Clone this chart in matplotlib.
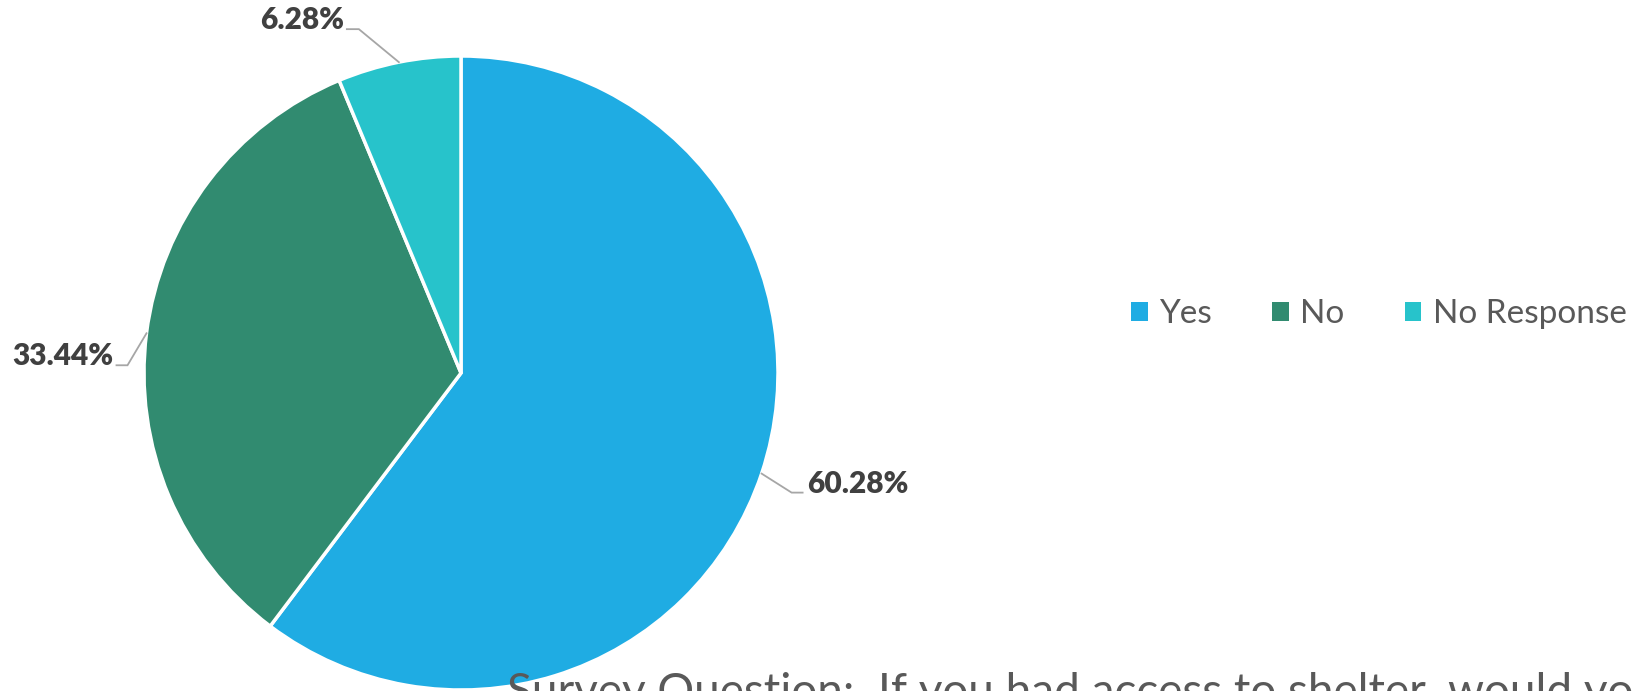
import numpy as np
import matplotlib.pyplot as plt
from matplotlib.patches import Patch

# ================================
# Data
# ================================
categories = ["Yes", "No", "No Response"]
shares = [60.28, 33.44, 6.28]
colors = ["#1FACE3", "#318B70", "#27C3CB"]
question = "Survey Question:  If you had access to shelter, would you use it?"

W, H = 1632, 691
plt.rcParams['font.family'] = ['Lato', 'DejaVu Sans']

fig = plt.figure(figsize=(W / 100, H / 100), dpi=100)
ax = fig.add_axes([0, 0, 1, 1])

# pie geometry (pixels, y up)
cx, cy, r = 461, H - 373, 317
wedges, _ = ax.pie(shares, colors=colors, startangle=90, counterclock=False,
                   center=(cx, cy), radius=r, frame=True,
                   wedgeprops=dict(edgecolor='white', linewidth=2.5))
ax.set_xlim(0, W)
ax.set_ylim(0, H)
ax.axis('off')

# ================================
# Data labels with leader lines
# (elbow offset, horizontal run, text side)
# ================================
leader = [((30, -19), 11, 'left'),     # Yes
          ((-19, -32), -11, 'right'),  # No
          ((-40, 33), -12, 'right')]   # No Response
for w, val, (d, run, side) in zip(wedges, shares, leader):
    mid = np.deg2rad((w.theta1 + w.theta2) / 2)
    x0, y0 = cx + r * np.cos(mid), cy + r * np.sin(mid)
    x1, y1 = x0 + d[0], y0 + d[1]
    x2 = x1 + run
    ax.plot([x0, x1, x2], [y0, y1, y1], color='#A6A6A6', lw=1.3,
            solid_joinstyle='miter')
    tx = x2 + (5 if side == 'left' else -3)
    ax.text(tx, y1 + 9, f"{val:.2f}%", ha=side, va='center',
            fontsize=21.5, fontweight='heavy', color='#404040')

# ================================
# Legend
# ================================
handles = [Patch(facecolor=c, edgecolor='none') for c in colors]
fig.legend(handles, categories, loc='center left',
           bbox_to_anchor=(1131 / W, (H - 314) / H), ncol=3, frameon=False,
           fontsize=24, labelcolor='#595959', handlelength=0.5,
           handleheight=0.5, handletextpad=0.35, columnspacing=1.8,
           borderpad=0, borderaxespad=0)

# clipped question text at the bottom
fig.text(507 / W, (H - 706) / H, question, ha='left', va='baseline',
         fontsize=33, color='#595959')

fig.savefig("out.png", dpi=100)
